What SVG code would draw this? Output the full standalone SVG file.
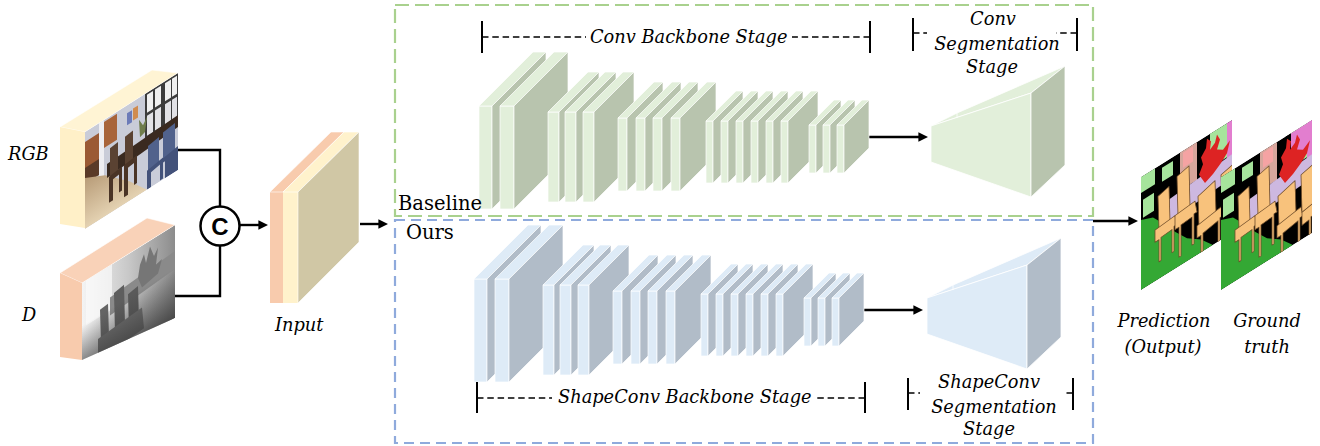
<svg xmlns="http://www.w3.org/2000/svg" xmlns:xlink="http://www.w3.org/1999/xlink" width="1320" height="446" viewBox="0 0 1320 446">
<style>
.lbl{font-family:"DejaVu Serif",serif;font-style:italic;font-size:17.8px;fill:#000}
.plain{font-family:"DejaVu Serif",serif;font-size:19.5px;fill:#000}
.conn{stroke:#000;stroke-width:2.4;fill:none}
.arr{stroke:#000;stroke-width:2.4;fill:none;marker-end:url(#ah)}
.bar{stroke:#000;stroke-width:2}
.dash{stroke:#000;stroke-width:1.5;stroke-dasharray:6.5 3.8}
.slab polygon,.slab rect{stroke:#fff;stroke-width:0.7;stroke-linejoin:round}
.edge{stroke:#fff;stroke-width:0.8;stroke-linejoin:round}
.chair{fill:#F8C27C;stroke:#6E4C2A;stroke-width:0.8;stroke-linejoin:round}
</style>
<defs>
<marker id="ah" viewBox="0 0 10 10" refX="5" refY="5" markerWidth="4" markerHeight="4" orient="auto" markerUnits="strokeWidth"><path d="M0,0 L10,5 L0,10 z" fill="#000"/></marker>
<linearGradient id="floorG" x1="0" y1="0" x2="0" y2="1"><stop offset="0" stop-color="#B89C78"/><stop offset="1" stop-color="#E4D2B2"/></linearGradient>
<linearGradient id="dG" x1="0" y1="0" x2="1" y2="0"><stop offset="0" stop-color="#F4F4F4"/><stop offset="0.5" stop-color="#C8C8C8"/><stop offset="1" stop-color="#8C8C8C"/></linearGradient>
<linearGradient id="dV" x1="0" y1="0" x2="0" y2="1"><stop offset="0.45" stop-color="#3A3A3A" stop-opacity="0"/><stop offset="1" stop-color="#3A3A3A" stop-opacity="0.85"/></linearGradient>
<clipPath id="rgbClip"><rect x="0" y="0" width="93" height="97"/></clipPath>
<clipPath id="dClip"><polygon points="0,0 93,0 93,93 0,77"/></clipPath>
<clipPath id="segClip"><rect x="0" y="0" width="91" height="113"/></clipPath>
<g id="segBg">
<rect width="92" height="113" fill="#000"/>
<rect x="0" y="0" width="14" height="16" fill="#A6E49C"/>
<rect x="21" y="4" width="11" height="14" fill="#A6E49C"/>
<rect x="2" y="24" width="11" height="18" fill="#A6E49C"/>
<rect x="39" y="0" width="17" height="38" fill="#D6A69C"/>
<rect x="42" y="2" width="10" height="15" fill="#F5A3A3"/>
<rect x="69" y="0" width="17" height="34" fill="#A6E49C"/>
<rect x="86" y="0" width="6" height="40" fill="#E27ECF"/>
</g>
<g id="segFg">
<polygon points="28,40 92,34 92,58 28,62" fill="#CDB8E0"/>
<polygon points="58,34 62,26 60,18 65,12 66,3 70,8 69,16 74,12 76,5 79,12 76,20 82,24 89,19 86,30 80,36 72,42 64,46" fill="#DD2323"/>
<polygon points="0,43 12,48 22,60 34,76 46,90 60,100 72,113 0,113" fill="#34A834"/>
<polygon class="chair" points="17,30 28,27 29,62 18,64"/>
<polygon class="chair" points="14,62 34,60 36,70 33,70 33,95 31,95 31,72 20,73 20,96 18,96 18,74 14,74"/>
<polygon class="chair" points="36,22 48,19 49,60 37,62"/>
<polygon class="chair" points="34,60 54,58 56,70 53,70 53,100 51,100 51,72 40,73 40,104 38,104 38,74 34,74"/>
<polygon class="chair" points="57,55 74,50 75,82 58,86"/>
<polygon class="chair" points="56,84 80,80 82,90 79,90 79,113 77,113 77,92 62,95 62,113 60,113 60,96 56,96"/>
<polygon class="chair" points="80,48 92,45 92,84 81,86"/>
<polygon class="chair" points="81,86 92,84 92,96 90,96 90,113 88,113 88,98 81,99"/>
</g>
<g id="bb">
<g class="slab">
<rect x="479" y="106" width="13" height="103"/><polygon points="479,106 492,106 546,52 533,52"/><polygon points="492,106 546,52 546,155 492,209" fill="currentColor"/>
<rect x="500" y="106" width="14" height="103"/><polygon points="500,106 514,106 568,52 554,52"/><polygon points="514,106 568,52 568,155 514,209" fill="currentColor"/>
<rect x="548" y="112" width="11" height="90"/><polygon points="548,112 559,112 599,72 588,72"/><polygon points="559,112 599,72 599,162 559,202" fill="currentColor"/>
<rect x="565" y="112" width="11" height="90"/><polygon points="565,112 576,112 616,72 605,72"/><polygon points="576,112 616,72 616,162 576,202" fill="currentColor"/>
<rect x="583" y="112" width="11" height="90"/><polygon points="583,112 594,112 634,72 623,72"/><polygon points="594,112 634,72 634,162 594,202" fill="currentColor"/>
<rect x="618" y="118" width="9" height="73"/><polygon points="618,118 627,118 663,82 654,82"/><polygon points="627,118 663,82 663,155 627,191" fill="currentColor"/>
<rect x="636" y="118" width="9" height="73"/><polygon points="636,118 645,118 681,82 672,82"/><polygon points="645,118 681,82 681,155 645,191" fill="currentColor"/>
<rect x="653" y="118" width="9" height="73"/><polygon points="653,118 662,118 698,82 689,82"/><polygon points="662,118 698,82 698,155 662,191" fill="currentColor"/>
<rect x="671" y="118" width="9" height="73"/><polygon points="671,118 680,118 716,82 707,82"/><polygon points="680,118 716,82 716,155 680,191" fill="currentColor"/>
<rect x="706" y="121" width="7" height="62"/><polygon points="706,121 713,121 743,91 736,91"/><polygon points="713,121 743,91 743,153 713,183" fill="currentColor"/>
<rect x="721" y="121" width="7" height="62"/><polygon points="721,121 728,121 758,91 751,91"/><polygon points="728,121 758,91 758,153 728,183" fill="currentColor"/>
<rect x="736" y="121" width="7" height="62"/><polygon points="736,121 743,121 773,91 766,91"/><polygon points="743,121 773,91 773,153 743,183" fill="currentColor"/>
<rect x="751" y="121" width="7" height="62"/><polygon points="751,121 758,121 788,91 781,91"/><polygon points="758,121 788,91 788,153 758,183" fill="currentColor"/>
<rect x="766" y="121" width="7" height="62"/><polygon points="766,121 773,121 803,91 796,91"/><polygon points="773,121 803,91 803,153 773,183" fill="currentColor"/>
<rect x="781" y="121" width="7" height="62"/><polygon points="781,121 788,121 818,91 811,91"/><polygon points="788,121 818,91 818,153 788,183" fill="currentColor"/>
<rect x="809" y="125" width="7" height="48"/><polygon points="809,125 816,125 841,100 834,100"/><polygon points="816,125 841,100 841,148 816,173" fill="currentColor"/>
<rect x="823" y="125" width="7" height="48"/><polygon points="823,125 830,125 855,100 848,100"/><polygon points="830,125 855,100 855,148 830,173" fill="currentColor"/>
<rect x="837" y="125" width="7" height="48"/><polygon points="837,125 844,125 869,100 862,100"/><polygon points="844,125 869,100 869,148 844,173" fill="currentColor"/>
</g>
</g>
<g id="seg">
<polygon class="edge" points="931,126 957,113 1065,66 1031,93"/>
<polygon class="edge" points="931,126 1031,93 1031,197 931,162"/>
<polygon class="edge" points="1031,93 1065,66 1065,165 1031,197" fill="currentColor"/>
<line x1="957" y1="113" x2="957" y2="118" stroke="#fff" stroke-width="0.8"/>
</g>
</defs>

<g id="connectors">
<polyline class="conn" points="145,150 220,150 220,206"/>
<polyline class="conn" points="144,296 220,296 220,246"/>
<line class="arr" x1="240" y1="225" x2="263.2" y2="225"/>
<line class="arr" x1="360" y1="224" x2="383.2" y2="224"/>
<line class="arr" x1="863" y1="137" x2="923.2" y2="137"/>
<line class="arr" x1="858" y1="310" x2="918.2" y2="310"/>
<line class="arr" x1="1093" y1="221" x2="1133.2" y2="221"/>
</g>

<g id="rgb-input">
<polygon points="60,127 85,132 178,73 152,70" fill="#FFF4D4" stroke="#fff" stroke-width="0.6"/>
<polygon points="60,127 85,132 85,228 60,224" fill="#FFF0C8"/>
<g transform="matrix(1,-0.634,0,1,85,132)">
<g clip-path="url(#rgbClip)">
<rect width="93" height="97" fill="#C9CCD8"/>
<rect x="0" y="10" width="14" height="40" fill="#9B5A34"/>
<rect x="0" y="36" width="14" height="16" fill="#5A3A28"/>
<rect x="14" y="0" width="5" height="60" fill="#EEEEF2"/>
<rect x="19" y="2" width="13" height="26" fill="#A8643A"/>
<rect x="42" y="8" width="5" height="12" fill="#6C7BB8"/>
<rect x="48" y="7" width="5" height="12" fill="#D08C50"/>
<rect x="60" y="0" width="33" height="48" fill="#3C3C3C"/>
<rect x="62" y="2" width="6" height="18" fill="#F0F0F0"/><rect x="70" y="2" width="6" height="18" fill="#F0F0F0"/>
<rect x="80" y="2" width="6" height="18" fill="#F0F0F0"/><rect x="87" y="2" width="5" height="18" fill="#F0F0F0"/>
<rect x="62" y="23" width="6" height="20" fill="#E2E2E6"/><rect x="70" y="23" width="6" height="20" fill="#E2E2E6"/>
<rect x="80" y="23" width="6" height="20" fill="#E2E2E6"/><rect x="87" y="23" width="5" height="20" fill="#E2E2E6"/>
<polygon points="54,22 58,30 62,24 60,38 55,40" fill="#6F7D4C"/>
<polygon points="0,46 20,56 45,78 62,97 0,97" fill="url(#floorG)"/>
<polygon points="22,46 93,42 93,54 22,60" fill="#3A2A20"/>
<polygon points="25,32 33,31 33,60 25,62" fill="#5A4232"/>
<polygon points="24,60 37,58 37,82 34,82 34,64 28,65 28,86 24,86" fill="#4A3426"/>
<polygon points="40,30 48,29 48,58 40,60" fill="#5A4232"/>
<polygon points="39,58 52,56 52,84 49,84 49,62 43,63 43,90 39,90" fill="#4A3426"/>
<polygon points="63,54 74,52 74,78 63,80" fill="#51628C"/>
<polygon points="62,78 78,75 78,96 75,96 75,80 66,82 66,97 62,97" fill="#43527A"/>
<polygon points="78,50 90,48 90,76 78,78" fill="#51628C"/>
<polygon points="77,76 93,73 93,97 80,97 80,80 77,80" fill="#43527A"/>
</g>
</g>
</g>

<g id="depth-input">
<polygon points="60,273 82,283 175,225 147,218" fill="#F9D2B8" stroke="#fff" stroke-width="0.6"/>
<polygon points="60,273 82,283 82,360 60,357" fill="#F8CBAD"/>
<g transform="matrix(1,-0.624,0,1,82,283)">
<g clip-path="url(#dClip)">
<rect width="93" height="95" fill="url(#dG)"/>
<rect x="4" y="0" width="26" height="45" fill="#FBFBFB" opacity="0.7"/>
<polygon points="28,32 93,26 93,44 28,50" fill="#8A8A8A"/>
<polygon points="56,30 58,18 62,10 64,20 68,6 72,18 76,12 74,28 80,26 76,38 60,42" fill="#767676"/>
<polygon points="18,38 26,37 27,70 19,72" fill="#646464"/>
<polygon points="32,30 42,28 43,68 33,70" fill="#5E5E5E"/>
<polygon points="46,40 56,38 57,74 47,76" fill="#5A5A5A"/>
<polygon points="16,66 60,62 62,84 16,88" fill="#727272"/>
<rect width="93" height="95" fill="url(#dV)"/>
</g>
</g>
</g>

<g id="concat">
<circle cx="220" cy="226" r="19.5" fill="#fff" stroke="#000" stroke-width="2.5"/>
<text x="220" y="234.5" text-anchor="middle" font-family="Liberation Sans, sans-serif" font-weight="bold" font-size="24">C</text>
</g>

<g id="input">
<rect x="270" y="192" width="13" height="111" fill="#F8CBAD"/>
<polygon points="270,192 283,192 344,132 331,132" fill="#F8CBAD" stroke="#fff" stroke-width="0.6"/>
<rect x="283" y="192" width="15" height="111" fill="#FFF2CC"/>
<polygon points="283,192 298,192 359,132 344,132" fill="#FFF2CC" stroke="#fff" stroke-width="0.6"/>
<polygon points="298,192 359,132 359,242 298,303" fill="#D0C7A5" stroke="#fff" stroke-width="0.6"/>
</g>

<g id="baseline-box">
<rect x="395" y="5" width="698" height="211" fill="none" stroke="#A9D18E" stroke-width="2.2" stroke-dasharray="14 6"/>
</g>
<g id="ours-box">
<rect x="395" y="220" width="698" height="223" fill="none" stroke="#8FAADC" stroke-width="2.2" stroke-dasharray="10 6"/>
</g>

<g id="conv-backbone">
<use xlink:href="#bb" href="#bb" fill="#E2EFDA" color="#B8C4AE"/>
</g>
<g id="shapeconv-backbone">
<use xlink:href="#bb" href="#bb" transform="translate(-5,173)" fill="#DEEBF7" color="#B1BCC8"/>
</g>
<g id="conv-seg">
<use xlink:href="#seg" href="#seg" fill="#E2EFDA" color="#B8C4AE"/>
</g>
<g id="shapeconv-seg">
<use xlink:href="#seg" href="#seg" transform="translate(-4,172)" fill="#DEEBF7" color="#B1BCC8"/>
</g>

<g id="prediction">
<g transform="matrix(1,-0.626,0,1,1141,177)">
<g clip-path="url(#segClip)">
<use xlink:href="#segBg" href="#segBg"/>
<use xlink:href="#segFg" href="#segFg"/>
</g>
</g>
</g>
<g id="ground-truth">
<g transform="matrix(1,-0.626,0,1,1221,177)">
<g clip-path="url(#segClip)">
<use xlink:href="#segBg" href="#segBg"/>
<rect x="64" y="0" width="6" height="34" fill="#000"/>
<rect x="70" y="0" width="22" height="30" fill="#E27ECF"/>
<use xlink:href="#segFg" href="#segFg"/>
</g>
</g>
</g>

<g id="labels">
<text class="lbl" x="8" y="160">RGB</text>
<text class="lbl" x="22" y="321">D</text>
<text class="lbl" x="275" y="331">Input</text>
<text class="plain" x="398" y="210">Baseline</text>
<text class="plain" x="406" y="239">Ours</text>
<text class="lbl" x="590" y="43">Conv Backbone Stage</text>
<text class="lbl" x="993" y="25" text-anchor="middle">Conv</text>
<text class="lbl" x="997" y="50" text-anchor="middle">Segmentation</text>
<text class="lbl" x="992" y="73" text-anchor="middle">Stage</text>
<text class="lbl" x="558" y="403">ShapeConv Backbone Stage</text>
<text class="lbl" x="989" y="388" text-anchor="middle">ShapeConv</text>
<text class="lbl" x="994" y="413" text-anchor="middle">Segmentation</text>
<text class="lbl" x="989" y="435" text-anchor="middle">Stage</text>
<text class="lbl" x="1164" y="327" text-anchor="middle">Prediction</text>
<text class="lbl" x="1163" y="353" text-anchor="middle">(Output)</text>
<text class="lbl" x="1267" y="327" text-anchor="middle">Ground</text>
<text class="lbl" x="1267" y="353" text-anchor="middle">truth</text>
</g>

<g id="brackets">
<line class="bar" x1="482" y1="21" x2="482" y2="53"/>
<line class="bar" x1="870" y1="21" x2="870" y2="53"/>
<line class="dash" x1="482" y1="37" x2="586" y2="37"/>
<line class="dash" x1="870" y1="37" x2="792" y2="37"/>
<line class="bar" x1="913" y1="18" x2="913" y2="51"/>
<line class="bar" x1="1077" y1="18" x2="1077" y2="51"/>
<line class="dash" x1="913" y1="33" x2="927" y2="33"/>
<line class="dash" x1="1077" y1="33" x2="1056" y2="33"/>
<line class="bar" x1="477" y1="382" x2="477" y2="413"/>
<line class="bar" x1="865" y1="382" x2="865" y2="413"/>
<line class="dash" x1="477" y1="398" x2="552" y2="398"/>
<line class="dash" x1="865" y1="398" x2="817" y2="398"/>
<line class="bar" x1="908" y1="378" x2="908" y2="410"/>
<line class="bar" x1="1073" y1="378" x2="1073" y2="410"/>
<line class="dash" x1="908" y1="393" x2="920" y2="393"/>
<line class="dash" x1="1073" y1="393" x2="1063" y2="393"/>
</g>
</svg>
